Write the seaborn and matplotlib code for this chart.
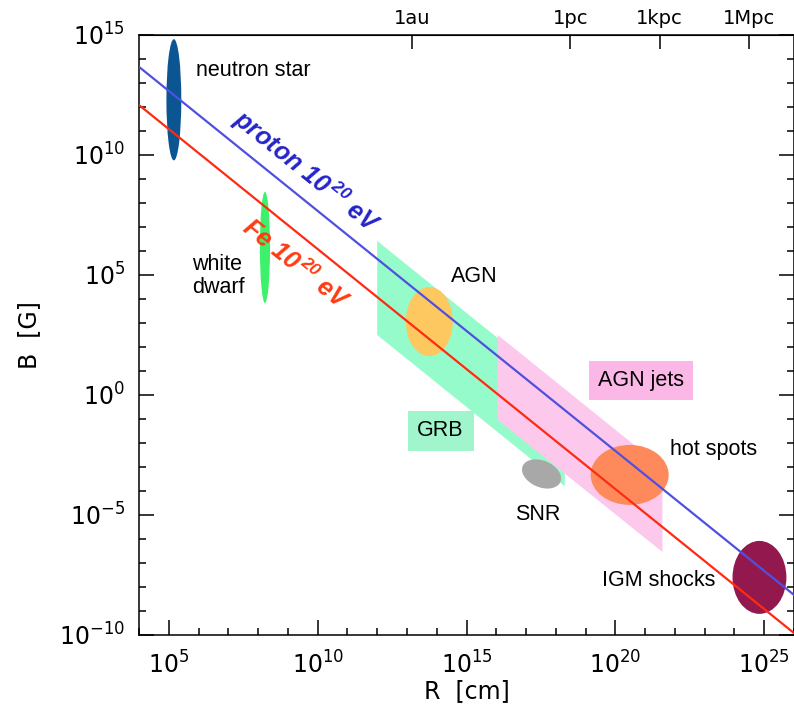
import matplotlib
matplotlib.use("Agg")
import matplotlib.pyplot as plt
from matplotlib.patches import Ellipse, Polygon
import pandas as pd
import seaborn as sns

# ----------------------------------------------------------
#  Data (all values are log10: R in cm, B in Gauss)
# ----------------------------------------------------------
line_logR = [4.0, 26.0]
proton_logB = [13.67, -8.33]
fe_logB = [12.08, -9.92]

# source regions drawn as ellipses: name, log R, log B, width, height, angle
ell_names = ["neutron star", "white dwarf", "AGN", "SNR", "hot spots", "IGM shocks"]
ell_logR = [5.17, 8.23, 13.75, 17.52, 20.48, 24.84]
ell_logB = [12.30, 6.15, 3.06, -3.29, -3.33, -7.60]
ell_w = [0.50, 0.34, 1.58, 1.45, 2.62, 1.81]
ell_h = [5.05, 4.63, 2.88, 1.05, 2.50, 3.04]
ell_angle = [0, 0, 0, -38, 0, 0]
ell_colors = ["#0b5592", "#3df26a", "#fec860", "#a8a8a8", "#fe8a5c", "#93184e"]

# bands (parallelograms) for GRB and AGN jets
grb_logR = [12.0, 18.3, 18.3, 12.0]
grb_logB = [6.42, 0.12, -3.80, 2.50]
jets_logR = [16.05, 21.58, 21.58, 16.05]
jets_logB = [2.50, -3.03, -6.54, -1.04]

# top axis distance scales
top_ticks = [13.175, 18.489, 21.489, 24.489]
top_labels = ["1au", "1pc", "1kpc", "1Mpc"]

x_major = [5, 10, 15, 20, 25]
y_major = [-10, -5, 0, 5, 10, 15]

# ----------------------------------------------------------
#  Plot
# ----------------------------------------------------------
sns.set_style("ticks")
plt.rcParams["font.family"] = ["Liberation Sans", "DejaVu Sans"]
plt.rcParams["mathtext.fontset"] = "custom"
plt.rcParams["mathtext.rm"] = "DejaVu Sans"
plt.rcParams["mathtext.bf"] = "Liberation Sans:bold:italic"
for key in ["text.color", "axes.labelcolor", "xtick.color", "ytick.color", "axes.edgecolor"]:
    plt.rcParams[key] = "black"

fig = plt.figure(figsize=(7.94, 7.11), dpi=100)
ax = fig.add_axes([0.1751, 0.1069, 0.8249, 0.8439])

ax.add_patch(Polygon(list(zip(grb_logR, grb_logB)), closed=True,
                     facecolor="#96fbcb", edgecolor="none", zorder=1))
ax.add_patch(Polygon(list(zip(jets_logR, jets_logB)), closed=True,
                     facecolor="#fcc8ec", edgecolor="none", zorder=2))

for i in range(len(ell_names)):
    ax.add_patch(Ellipse((ell_logR[i], ell_logB[i]), ell_w[i], ell_h[i],
                         angle=ell_angle[i], facecolor=ell_colors[i],
                         edgecolor="none", zorder=3))

lines = pd.DataFrame({
    "logR": line_logR * 2,
    "logB": proton_logB + fe_logB,
    "particle": ["proton"] * 2 + ["Fe"] * 2,
})
sns.lineplot(data=lines, x="logR", y="logB", hue="particle",
             palette={"proton": "#5050e0", "Fe": "#ff2a12"},
             linewidth=1.6, legend=False, ax=ax, zorder=5)

# rotated line labels
ax.text(9.62, 9.30, r"proton $\mathbf{10}^{\,\mathbf{20}}$ eV", color="#2424c8",
        fontsize=18, fontweight="bold", fontstyle="italic",
        rotation=-38.8, rotation_mode="anchor", ha="center", va="center", zorder=6)
ax.text(9.25, 5.45, r"Fe $\mathbf{10}^{\,\mathbf{20}}$ eV", color="#ff3a12",
        fontsize=18, fontweight="bold", fontstyle="italic",
        rotation=-38.8, rotation_mode="anchor", ha="center", va="center", zorder=6)

# region labels
fs = 15.5
ax.text(5.91, 13.54, "neutron star", fontsize=fs, ha="left", va="center")
ax.text(5.78, 4.96, "white\ndwarf", fontsize=fs, ha="left", va="center",
        linespacing=1.1)
ax.text(14.47, 4.92, "AGN", fontsize=fs, ha="left", va="center")
ax.text(17.39, -5.0, "SNR", fontsize=fs, ha="center", va="center")
ax.text(21.82, -2.29, "hot spots", fontsize=fs, ha="left", va="center")
ax.text(23.36, -7.71, "IGM shocks", fontsize=fs, ha="right", va="center")
ax.text(14.13, -1.5, "GRB", fontsize=fs, ha="center", va="center",
        bbox=dict(boxstyle="square,pad=0.45", facecolor="#a0f5cd", edgecolor="none"))
ax.text(20.85, 0.62, "AGN jets", fontsize=fs, ha="center", va="center",
        bbox=dict(boxstyle="square,pad=0.42", facecolor="#fbb8e6", edgecolor="none"))

ax.set_xlim(4.0, 26.0)
ax.set_ylim(-10, 15)

ax.set_xticks(x_major)
ax.set_xticklabels([f"10$^{{{v}}}$" for v in x_major], family="DejaVu Sans")
ax.set_xticks(range(4, 27), minor=True)
ax.set_yticks(y_major)
ax.set_yticklabels([f"10$^{{{v}}}$" for v in y_major], family="DejaVu Sans")
ax.set_yticks(range(-10, 16), minor=True)

ax.tick_params(which="both", direction="in", right=True, top=False,
               width=1.1, labelsize=17, colors="black")
ax.tick_params(axis="x", pad=12)
ax.tick_params(axis="y", pad=10)
ax.tick_params(which="major", length=11)
ax.tick_params(which="minor", length=5)
for sp in ax.spines.values():
    sp.set_linewidth(1.1)
    sp.set_color("black")

ax.set_xlabel("R  [cm]", fontsize=17, family="DejaVu Sans", labelpad=0)
ax.set_ylabel("B  [G]", fontsize=17, family="DejaVu Sans", labelpad=13)

top = ax.secondary_xaxis("top")
top.set_xticks(top_ticks)
top.set_xticklabels(top_labels, family="DejaVu Sans")
top.tick_params(direction="in", length=10, width=1.1, labelsize=14, pad=5,
                colors="black")
top.spines["top"].set_color("black")

fig.savefig("out.png", dpi=100)
